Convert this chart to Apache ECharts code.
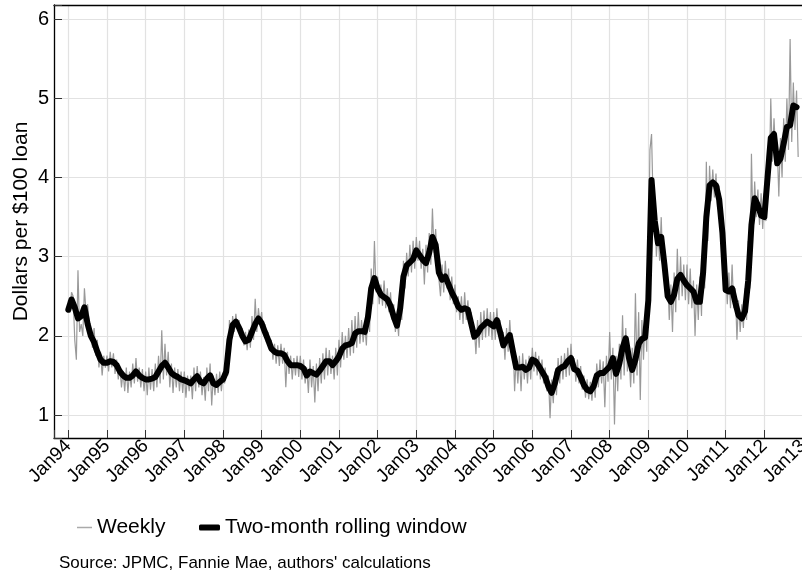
<!DOCTYPE html>
<html>
<head>
<meta charset="utf-8">
<title>Dollars per $100 loan</title>
<script src="https://cdn.jsdelivr.net/npm/echarts@6/dist/echarts.min.js"></script>
<style>
html, body { margin: 0; padding: 0; background: #fff; }
#main { width: 802px; height: 573px; }
</style>
</head>
<body>
<div id="main"></div>
<script>
// first observation is Jan 1994
var startYear = 1994;
var xTickLabels = ['Jan94', 'Jan95', 'Jan96', 'Jan97', 'Jan98', 'Jan99', 'Jan00', 'Jan01', 'Jan02', 'Jan03',
    'Jan04', 'Jan05', 'Jan06', 'Jan07', 'Jan08', 'Jan09', 'Jan10', 'Jan11', 'Jan12', 'Jan13'];
var yTicks = [1, 2, 3, 4, 5, 6];

// weekly series at two points a month
var weekly = [
    2.45, 2.3, 2.55, 2.5, 1.95, 1.7, 2.83, 2.05, 2.15, 2.0, 2.6, 2.3, 2.4, 2.15, 2.05, 1.85, 2.1, 1.75, 1.95, 1.6, 1.8, 1.5, 1.75, 1.6,
    1.75, 1.55, 1.8, 1.6, 1.78, 1.52, 1.7, 1.45, 1.6, 1.35, 1.55, 1.3, 1.6, 1.28, 1.55, 1.35, 1.65, 1.4, 1.72, 1.42, 1.6, 1.35, 1.58, 1.3,
    1.55, 1.25, 1.6, 1.32, 1.58, 1.3, 1.65, 1.35, 1.75, 1.4, 2.07, 1.45, 1.9, 1.5, 1.8, 1.35, 1.65, 1.28, 1.6, 1.35, 1.58, 1.3, 1.55, 1.28,
    1.55, 1.22, 1.5, 1.3, 1.5, 1.2, 1.6, 1.3, 1.62, 1.35, 1.55, 1.25, 1.48, 1.18, 1.6, 1.3, 1.65, 1.12, 1.5, 1.25, 1.52, 1.28, 1.55, 1.3,
    1.52, 1.4, 1.6, 1.5, 2.2, 1.9, 2.25, 2.05, 2.28, 2.1, 2.2, 1.98, 2.1, 1.88, 2.05, 1.82, 2.08, 1.85, 2.25, 1.95, 2.47, 2.05, 2.35, 2.15,
    2.3, 2.05, 2.15, 1.92, 2.05, 1.82, 1.95, 1.7, 1.9, 1.65, 1.88, 1.62, 1.9, 1.65, 1.85, 1.35, 1.8, 1.52, 1.75, 1.45, 1.72, 1.5, 1.75, 1.48,
    1.75, 1.45, 1.7, 1.4, 1.6, 1.28, 1.7, 1.35, 1.62, 1.16, 1.65, 1.3, 1.72, 1.4, 1.78, 1.45, 1.85, 1.5, 1.82, 1.52, 1.75, 1.45, 1.85, 1.5,
    1.95, 1.6, 2.05, 1.7, 2.0, 1.72, 2.1, 1.75, 2.2, 1.78, 2.25, 1.85, 2.3, 1.9, 2.2, 1.92, 2.15, 1.88, 2.45, 2.05, 2.85, 2.4, 3.2, 2.55,
    2.75, 2.4, 2.65, 2.38, 2.7, 2.35, 2.6, 2.3, 2.55, 2.2, 2.4, 2.05, 2.25, 2.0, 2.55, 2.2, 2.95, 2.6, 3.05, 2.75, 3.15, 2.8, 3.2, 2.85,
    3.25, 2.95, 3.2, 2.85, 3.1, 2.65, 3.15, 2.8, 3.3, 2.9, 3.61, 3.05, 3.35, 2.95, 2.95, 2.5, 2.9, 2.55, 2.95, 2.6, 2.85, 2.45, 2.75, 2.4,
    2.65, 2.3, 2.5, 2.2, 2.5, 2.15, 2.55, 2.2, 2.45, 2.15, 2.3, 1.95, 2.1, 1.77, 2.2, 1.85, 2.3, 1.95, 2.32, 1.98, 2.35, 2.0, 2.3, 1.95,
    2.3, 1.95, 2.35, 2.05, 2.2, 1.85, 2.05, 1.7, 2.1, 1.8, 2.2, 1.85, 1.95, 1.3, 1.75, 1.4, 1.75, 1.3, 1.78, 1.45, 1.7, 1.4, 1.75, 1.45,
    1.85, 1.55, 1.8, 1.5, 1.75, 1.45, 1.7, 1.4, 1.6, 1.3, 1.5, 0.96, 1.45, 1.15, 1.55, 1.25, 1.72, 1.4, 1.75, 1.45, 1.78, 1.48, 1.85, 1.5,
    1.9, 1.55, 1.72, 1.42, 1.7, 1.4, 1.62, 1.32, 1.5, 1.22, 1.45, 1.2, 1.42, 1.18, 1.48, 1.22, 1.65, 1.35, 1.7, 1.4, 1.68, 1.1, 1.75, 1.42,
    2.05, 1.45, 1.85, 0.88, 1.75, 1.3, 1.9, 1.45, 2.26, 1.5, 2.1, 1.55, 1.8, 1.35, 1.85, 1.4, 2.54, 1.5, 2.3, 1.19, 2.2, 1.7, 2.25, 1.8,
    2.9, 4.35, 4.55, 3.65, 3.6, 3.0, 3.35, 2.95, 3.5, 2.85, 3.1, 2.55, 2.75, 2.2, 2.65, 2.05, 2.8, 2.3, 3.1, 2.45, 3.0, 2.5, 2.9, 2.45,
    2.9, 2.4, 2.85, 2.35, 2.7, 2.0, 2.65, 2.2, 2.75, 2.25, 3.2, 2.6, 4.2, 3.2, 4.15, 3.7, 4.1, 3.75, 4.05, 3.6, 3.9, 3.4, 3.55, 2.95,
    2.85, 2.4, 2.8, 2.35, 2.9, 2.35, 2.6, 1.95, 2.45, 2.05, 2.4, 2.1, 2.6, 2.2, 3.2, 2.6, 4.3, 3.3, 3.95, 3.5, 3.85, 3.4, 3.8, 3.35,
    3.8, 3.45, 4.35, 3.9, 5.0, 4.2, 4.75, 4.3, 4.4, 3.76, 4.5, 4.0, 4.75, 4.2, 5.0, 4.35, 5.75, 4.45, 5.2, 4.6, 5.1, 4.26
];

// two-month rolling window, one point a month
var rolling = [
    2.33, 2.46, 2.36, 2.22, 2.25, 2.36, 2.15, 2.0, 1.92, 1.8, 1.7, 1.66,
    1.66, 1.68, 1.67, 1.63, 1.55, 1.5, 1.47, 1.47, 1.5, 1.55, 1.5, 1.47,
    1.45, 1.45, 1.46, 1.48, 1.55, 1.62, 1.66, 1.6, 1.53, 1.5, 1.48, 1.45,
    1.44, 1.42, 1.4, 1.45, 1.49, 1.42, 1.4, 1.46, 1.5, 1.4, 1.38, 1.42,
    1.45, 1.55, 1.95, 2.14, 2.18, 2.1, 2.0, 1.93, 1.95, 2.05, 2.15, 2.22,
    2.16, 2.05, 1.95, 1.84, 1.8, 1.78, 1.78, 1.76, 1.68, 1.63, 1.63, 1.63,
    1.62, 1.59, 1.5, 1.55, 1.53, 1.51, 1.56, 1.62, 1.68, 1.68, 1.63, 1.68,
    1.74, 1.84, 1.88, 1.89, 1.91, 2.03, 2.06, 2.06, 2.05, 2.24, 2.6, 2.73,
    2.6, 2.52, 2.49, 2.46, 2.38, 2.24, 2.13, 2.35, 2.75, 2.89, 2.93, 2.97,
    3.08, 3.02, 2.96, 2.92, 3.05, 3.25, 3.15, 2.8, 2.71, 2.75, 2.65, 2.55,
    2.47, 2.37, 2.33, 2.35, 2.33, 2.16, 1.99, 2.03, 2.1, 2.14, 2.18, 2.15,
    2.12, 2.2, 2.05, 1.88, 1.95, 2.01, 1.8, 1.6, 1.6, 1.61, 1.57, 1.6,
    1.7, 1.68, 1.62, 1.55, 1.48, 1.36, 1.28, 1.4, 1.57, 1.6, 1.62, 1.68,
    1.72, 1.58, 1.56, 1.48, 1.38, 1.32, 1.3, 1.36, 1.5, 1.53, 1.53, 1.57,
    1.61, 1.72, 1.52, 1.65, 1.85, 1.97, 1.72, 1.57, 1.7, 1.9, 1.96, 1.98,
    2.45, 3.97, 3.45, 3.17, 3.25, 2.9, 2.5, 2.43, 2.52, 2.72, 2.77, 2.7,
    2.64, 2.6, 2.56, 2.43, 2.43, 2.8, 3.5, 3.9, 3.94, 3.9, 3.72, 3.3,
    2.58, 2.56, 2.6, 2.42, 2.26, 2.22, 2.31, 2.7, 3.4, 3.74, 3.65, 3.52,
    3.5, 4.0, 4.5, 4.55, 4.18, 4.24, 4.43, 4.64, 4.66, 4.91, 4.89
];

// pair each value with its date in years
var weeklyPts = weekly.map(function (v, i) { return [startYear + i / 24, v]; });
var rollingPts = rolling.map(function (v, i) { return [startYear + i / 12, v]; });

var fontName = 'Liberation Sans';
var myChart = echarts.init(document.getElementById('main'));

var option = {
    animation: false,
    backgroundColor: '#fff',
    textStyle: { fontFamily: fontName },
    grid: { left: 54, top: 5, right: -1, bottom: 135, outerBoundsMode: 'none', containLabel: false },
    xAxis: [
        {
            type: 'value',
            min: 1993.63,
            max: 2013,
            splitNumber: 19,
            minInterval: 1,
            maxInterval: 1,
            axisLine: { show: true, onZero: false, lineStyle: { color: '#000', width: 1.3 } },
            axisTick: { show: true, inside: true, length: 8, lineStyle: { color: '#333' } },
            axisLabel: {
                rotate: 45,
                margin: 5,
                fontSize: 19,
                color: '#000',
                fontFamily: fontName,
                formatter: function (v) {
                    var k = Math.round(v - startYear);
                    if (Math.abs(v - startYear - k) > 1e-6) return '';
                    return xTickLabels[k] || '';
                }
            },
            splitLine: { show: true, lineStyle: { color: '#e2e2e2', width: 1.2 } }
        },
        {
            // top frame line
            type: 'value',
            position: 'top',
            min: 1993.63,
            max: 2013,
            axisLine: { show: true, onZero: false, lineStyle: { color: '#000', width: 1.3 } },
            axisTick: { show: false },
            axisLabel: { show: false },
            splitLine: { show: false }
        }
    ],
    yAxis: {
        type: 'value',
        min: 0.71,
        max: 6.18,
        splitNumber: 5,
        minInterval: 1,
        maxInterval: 1,
        name: 'Dollars per $100 loan',
        nameLocation: 'middle',
        nameGap: 22,
        nameMoveOverlap: false,
        nameTextStyle: { fontSize: 21, color: '#000', fontFamily: fontName },
        axisLine: { show: true, onZero: false, lineStyle: { color: '#000', width: 1.3 } },
        axisTick: { show: true, inside: true, length: 8, lineStyle: { color: '#333' } },
        axisLabel: {
            margin: 5,
            fontSize: 20,
            color: '#000',
            fontFamily: fontName,
            formatter: function (v) {
                return yTicks.indexOf(v) >= 0 ? String(v) : '';
            }
        },
        splitLine: { show: true, lineStyle: { color: '#e2e2e2', width: 1.2 } }
    },
    legend: [
        {
            data: ['Weekly'],
            left: 72,
            top: 512,
            icon: 'rect',
            itemWidth: 15,
            itemHeight: 1.5,
            textStyle: { fontSize: 21, color: '#000', fontFamily: fontName }
        },
        {
            data: ['Two-month rolling window'],
            left: 194,
            top: 512,
            icon: 'roundRect',
            itemWidth: 21,
            itemHeight: 6,
            textStyle: { fontSize: 21, color: '#000', fontFamily: fontName }
        }
    ],
    graphic: [
        {
            type: 'text',
            left: 59,
            top: 555,
            style: {
                text: "Source: JPMC, Fannie Mae, authors' calculations",
                fontSize: 17,
                fontFamily: fontName,
                fill: '#000'
            }
        }
    ],
    series: [
        {
            name: 'Weekly',
            type: 'line',
            symbol: 'none',
            z: 2,
            data: weeklyPts,
            lineStyle: { color: '#999', width: 1.2 },
            itemStyle: { color: '#aaa' }
        },
        {
            name: 'Two-month rolling window',
            type: 'line',
            symbol: 'none',
            z: 3,
            data: rollingPts,
            lineStyle: { color: '#000', width: 6, cap: 'round', join: 'round' },
            itemStyle: { color: '#000' }
        }
    ]
};

myChart.setOption(option);
</script>
</body>
</html>
